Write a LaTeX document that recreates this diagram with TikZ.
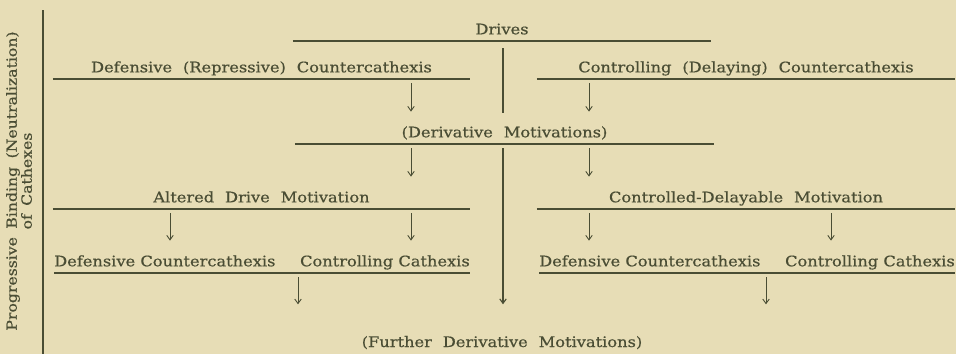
\documentclass[tikz,border=0pt]{standalone}
\usepackage{fontspec}
\setmainfont{DejaVu Serif}[FakeStretch=1.12, FakeBold=0.5]
\usetikzlibrary{arrows.meta}

\definecolor{paper}{RGB}{231,221,182}
\definecolor{ink}{RGB}{74,77,52}

% wide word spacing of the labels
\newcommand\wideskip[2][0.75em]{{\spaceskip=#1\relax #2}}

\begin{document}
\begin{tikzpicture}[
  x=1pt, y=-1pt,
  every node/.style={text=ink, inner xsep=0pt},
  lab/.style={font=\fontsize{14.5}{15}\selectfont, inner ysep=3.5pt,
    text height=11pt, text depth=3pt},
  bar/.style={minimum width=#1, anchor=south},
  rule/.style={draw=ink, line width=1.1pt},
  arr/.style={draw=ink, line width=0.9pt,
    -{Straight Barb[length=4.5pt,width=6.5pt]},
    shorten <=4pt, shorten >=#1},
  arr/.default=11pt
]

\fill[paper] (0,0) rectangle (956,354);
\useasboundingbox (0,0) rectangle (956,354);

% side label and its rule
\node[rotate=90, align=center, font=\fontsize{14}{15}\selectfont] (side) at (19,181)
  {\wideskip[0.6em]{Progressive Binding (Neutralization)}\\\wideskip[0.6em]{of Cathexes}};
\draw[rule] (43,10) -- (43,354);

% labels on their bars
\node[lab, bar=418pt] (drv) at (502,41) {Drives};
\node[lab, bar=417pt] (drc) at (261.5,79) {\wideskip{Defensive (Repressive) Countercathexis}};
\node[lab, bar=418pt] (ctc) at (746,79) {\wideskip{Controlling (Delaying) Countercathexis}};
\node[lab, bar=419pt] (der) at (504.5,144) {\wideskip{(Derivative Motivations)}};
\node[lab, bar=417pt] (adm) at (261.5,209) {\wideskip{Altered Drive Motivation}};
\node[lab, bar=418pt] (cdm) at (746,209) {\wideskip{Controlled-Delayable Motivation}};
\node[lab, anchor=south west] (ldc) at (54,273) {Defensive Countercathexis};
\node[lab, anchor=south east] (lcc) at (470,273) {Controlling Cathexis};
\node[lab, anchor=south west] (rdc) at (539,273) {Defensive Countercathexis};
\node[lab, anchor=south east] (rcc) at (955,273) {Controlling Cathexis};
\node[lab] (fdm) at (502,343) {\wideskip{(Further Derivative Motivations)}};

\foreach \n in {drv,drc,ctc,der,adm,cdm}
  \draw[rule] (\n.south west) -- (\n.south east);
\draw[rule] (ldc.south west) -- (lcc.south east);
\draw[rule] (rdc.south west) -- (rcc.south east);

% columns of the arrows
\coordinate (xa) at (170,0);
\coordinate (xd) at (298,0);
\coordinate (xl) at (411,0);
\coordinate (xc) at (503,0);
\coordinate (xr) at (589,0);
\coordinate (xe) at (766,0);
\coordinate (xb) at (831,0);

\draw[arr] (xl |- drc.south) -- (xl |- der.north);
\draw[arr] (xr |- ctc.south) -- (xr |- der.north);
\draw[arr] (xl |- der.south) -- (xl |- adm.north);
\draw[arr] (xr |- der.south) -- (xr |- cdm.north);
\draw[arr] (xa |- adm.south) -- (xa |- ldc.north);
\draw[arr] (xl |- adm.south) -- (xl |- lcc.north);
\draw[arr] (xr |- cdm.south) -- (xr |- rdc.north);
\draw[arr] (xb |- cdm.south) -- (xb |- rcc.north);
\draw[arr=28pt] (xd |- ldc.south) -- (xd |- fdm.north);
\draw[arr=28pt] (xe |- rdc.south) -- (xe |- fdm.north);

% the stem from the drives
\draw[rule, shorten <=7pt, shorten >=10pt] (xc |- drv.south) -- (xc |- der.north);
\draw[arr=28pt, line width=1.1pt] (xc |- der.south) -- (xc |- fdm.north);

\end{tikzpicture}
\end{document}
